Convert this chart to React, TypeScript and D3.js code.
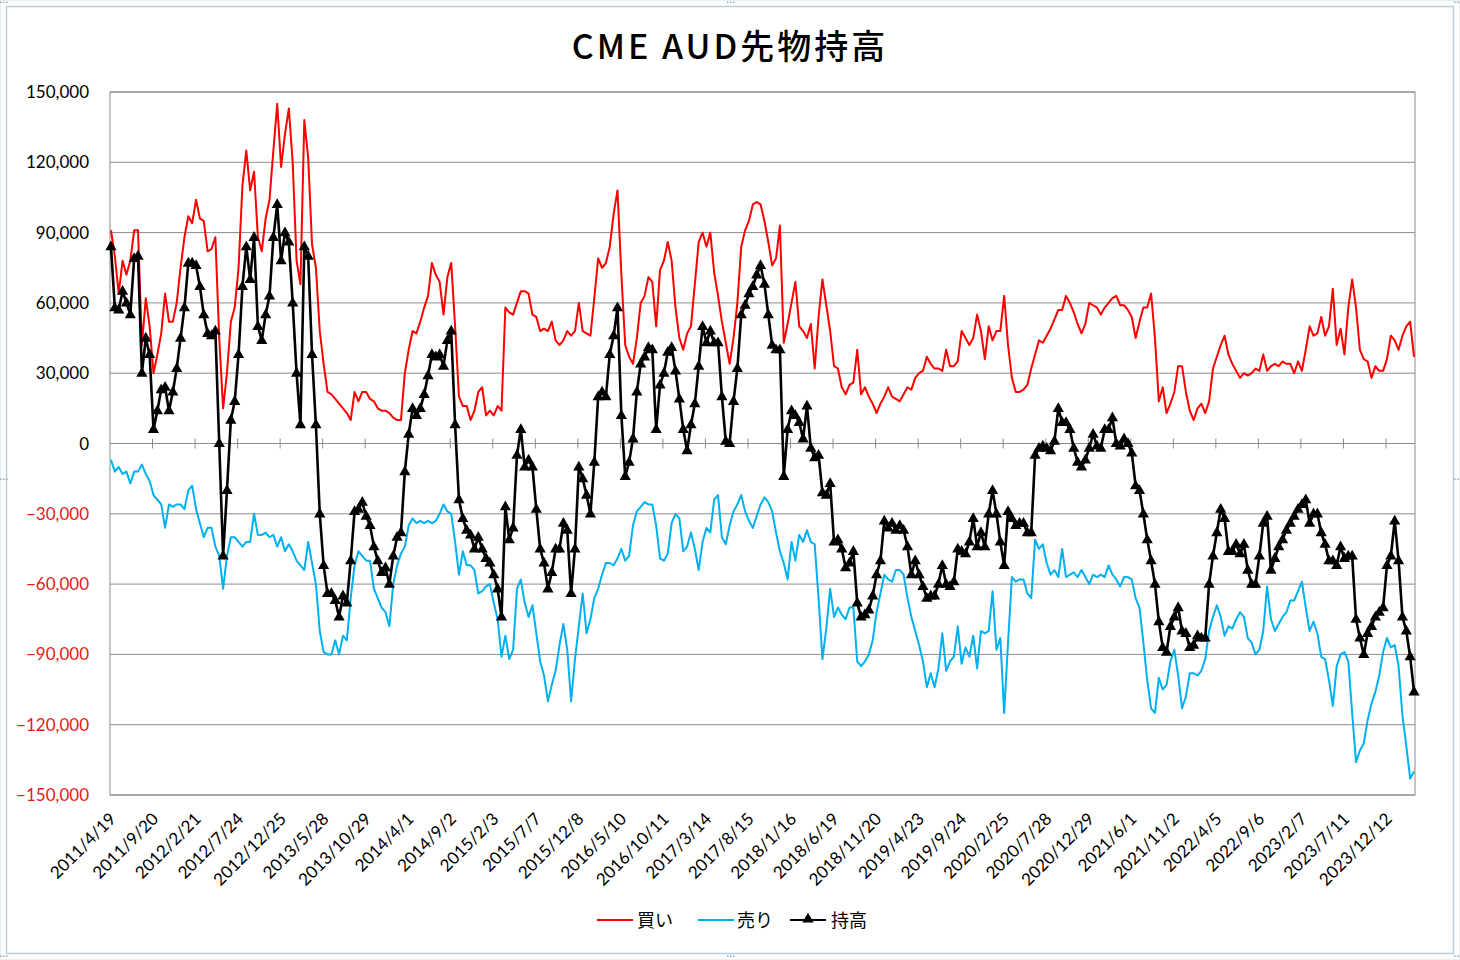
import React from 'react';
import * as d3 from 'd3';

// ---- categories (weekly, 675 weeks starting 2011/4/19) ----
const N_WEEKS = 675;
const STEP = 2; // values below are read every 2 weeks
const LABEL_EVERY = 22;
const tickLabels = [
  '2011/4/19', '2011/9/20', '2012/2/21', '2012/7/24', '2012/12/25', '2013/5/28', '2013/10/29',
  '2014/4/1', '2014/9/2', '2015/2/3', '2015/7/7', '2015/12/8', '2016/5/10', '2016/10/11',
  '2017/3/14', '2017/8/15', '2018/1/16', '2018/6/19', '2018/11/20', '2019/4/23', '2019/9/24',
  '2020/2/25', '2020/7/28', '2020/12/29', '2021/6/1', '2021/11/2', '2022/4/5', '2022/9/6',
  '2023/2/7', '2023/7/11', '2023/12/12',
];
const yTicks = [150000, 120000, 90000, 60000, 30000, 0, -30000, -60000, -90000, -120000, -150000];

// ---- values in thousands of contracts ----
const longs = [
  91, 80, 64, 78, 72, 78, 91, 91, 42, 62,
  50, 30, 38, 47, 64, 52, 52, 60, 75, 88,
  97, 94, 104, 96, 95, 82, 83, 88, 45, 15,
  30, 52, 58, 75, 110, 125, 108, 116, 88, 82,
  96, 104, 125, 145, 118, 132, 143, 120, 78, 68,
  138, 122, 85, 75, 48, 34, 22, 21, 19, 17,
  15, 13, 10, 22, 18, 22, 22, 19, 18, 15,
  14, 14, 13, 11, 10, 10, 30, 40, 48, 47,
  52, 58, 63, 77, 72, 69, 55, 71, 77, 50,
  20, 16, 16, 10, 14, 22, 24, 12, 14, 12,
  16, 14, 58, 56, 55, 60, 65, 65, 64, 55,
  54, 48, 49, 48, 52, 44, 42, 44, 48, 46,
  48, 60, 48, 47, 46, 62, 79, 75, 77, 84,
  98, 108, 72, 42, 37, 34, 45, 60, 63, 71,
  69, 50, 74, 78, 86, 78, 58, 45, 40, 47,
  50, 68, 86, 90, 84, 90, 73, 63, 52, 43,
  34, 45, 60, 84, 91, 95, 102, 103, 102, 95,
  86, 76, 79, 93, 43, 51, 60, 69, 50, 48,
  45, 51, 32, 54, 70, 59, 48, 33, 32, 24,
  21, 25, 26, 40, 21, 24, 20, 17, 13, 17,
  20, 24, 20, 19, 18, 21, 24, 23, 28, 30,
  31, 37, 34, 32, 32, 31, 40, 33, 33, 35,
  48, 45, 42, 45, 55, 48, 36, 50, 44, 48,
  48, 63, 42, 28, 22, 22, 23, 25, 32, 38,
  44, 43, 46, 49, 53, 57, 57, 63, 60, 56,
  51, 47, 51, 60, 59, 58, 55, 58, 60, 62,
  63, 59, 59, 57, 54, 45, 52, 58, 58, 64,
  45, 18, 24, 13, 17, 22, 33, 33, 22, 14,
  10, 15, 17, 13, 18, 32, 37, 42, 46, 38,
  34, 31, 28, 30, 29, 30, 32, 31, 38, 31,
  33, 34, 33, 35, 34, 34, 30, 35, 31, 40,
  50, 46, 47, 54, 46, 50, 66, 42, 49, 38,
  58, 70, 58, 40, 36, 35, 28, 33, 31, 31,
  36, 46, 44, 40, 46, 50, 52, 37,
];

const shorts = [
  -7, -12, -10, -13, -12, -17, -12, -12, -9, -13,
  -16, -22, -24, -26, -36, -26, -27, -26, -26, -28,
  -20, -18, -28, -34, -40, -36, -36, -44, -48, -62,
  -48, -40, -40, -42, -44, -42, -42, -30, -39, -39,
  -38, -40, -39, -44, -40, -46, -43, -46, -50, -52,
  -54, -42, -51, -60, -80, -89, -90, -90, -84, -90,
  -82, -84, -66, -52, -46, -48, -50, -50, -62, -66,
  -70, -72, -78, -60, -52, -47, -44, -35, -32, -34,
  -33, -34, -33, -34, -33, -30, -26, -29, -30, -42,
  -56, -46, -52, -52, -54, -64, -63, -61, -60, -68,
  -75, -91, -82, -92, -88, -62, -58, -68, -74, -69,
  -81, -93, -99, -110, -103, -97, -86, -77, -88, -110,
  -92, -78, -64, -81, -75, -66, -62, -56, -51, -51,
  -52, -49, -45, -50, -48, -35, -29, -27, -25, -26,
  -26, -35, -49, -50, -47, -34, -30, -32, -46, -44,
  -38, -45, -54, -42, -36, -38, -24, -22, -40, -43,
  -35, -29, -26, -22, -29, -33, -36, -31, -26, -23,
  -25, -29, -38, -46, -51, -58, -42, -50, -39, -42,
  -37, -42, -43, -66, -92, -79, -62, -74, -70, -73,
  -75, -70, -70, -93, -95, -93, -90, -84, -72, -64,
  -56, -58, -59, -54, -54, -56, -66, -74, -80, -86,
  -93, -104, -98, -104, -96, -81, -97, -93, -91, -78,
  -94, -87, -91, -82, -96, -80, -81, -80, -63, -88,
  -83, -115, -85, -57, -59, -58, -58, -64, -66, -41,
  -45, -43, -51, -56, -54, -57, -45, -57, -56, -55,
  -57, -54, -57, -60, -56, -57, -56, -57, -52, -56,
  -58, -61, -57, -57, -58, -66, -70, -85, -101, -113,
  -115, -100, -105, -103, -93, -88, -99, -113, -108, -98,
  -98, -99, -97, -92, -80, -74, -69, -74, -82, -78,
  -79, -75, -72, -74, -83, -85, -90, -88, -80, -61,
  -75, -80, -77, -74, -72, -67, -67, -63, -59, -70,
  -80, -76, -81, -91, -92, -101, -112, -95, -90, -89,
  -93, -115, -136, -131, -128, -118, -111, -106, -99, -89,
  -83, -87, -86, -95, -116, -129, -143, -140,
];

const nets = [
  84, 58, 57, 65, 60, 55, 79, 80, 30, 45,
  38, 6, 14, 23, 24, 14, 22, 32, 45, 58,
  77, 77, 76, 67, 55, 47, 46, 48, 0, -48,
  -20, 10, 18, 38, 67, 84, 70, 88, 50, 44,
  55, 63, 88, 102, 78, 90, 86, 60, 30, 8,
  84, 80, 38, 8, -30, -52, -64, -64, -67, -74,
  -65, -68, -50, -29, -28, -25, -31, -35, -44, -50,
  -55, -53, -60, -48, -40, -38, -12, 4, 15, 12,
  15, 21, 29, 38, 37, 38, 33, 44, 48, 8,
  -24, -32, -37, -39, -45, -40, -45, -49, -51, -56,
  -62, -74, -27, -41, -36, -5, 6, -10, -7, -10,
  -28, -45, -51, -62, -55, -45, -45, -34, -37, -64,
  -45, -10, -15, -22, -30, -8, 20, 22, 20, 38,
  46, 58, 12, -14, -8, 2, 22, 34, 37, 41,
  40, 6, 25, 30, 39, 41, 31, 19, 6, -3,
  8, 17, 33, 50, 43, 48, 43, 43, 20, 1,
  0, 18, 32, 55, 59, 64, 67, 72, 76, 68,
  55, 42, 40, 40, -14, 6, 14, 12, 9, 2,
  16, -2, -6, -5, -21, -22, -17, -42, -41, -45,
  -53, -51, -46, -68, -74, -73, -71, -65, -56, -50,
  -33, -36, -34, -37, -35, -37, -44, -56, -50, -56,
  -61, -66, -65, -65, -60, -52, -60, -61, -59, -45,
  -46, -47, -42, -32, -44, -38, -44, -30, -20, -30,
  -42, -52, -29, -32, -35, -34, -34, -38, -38, -5,
  -2, -1, -2, -3, 1, 15, 9, 9, 6, -2,
  -8, -10, -7, -2, 4, -1, -2, 6, 6, 11,
  0, -1, 2, 0, -4, -18, -20, -30, -41, -50,
  -60, -76, -87, -89, -78, -74, -70, -80, -81, -87,
  -86, -82, -83, -83, -60, -48, -38, -28, -32, -46,
  -46, -43, -47, -43, -54, -60, -60, -48, -34, -31,
  -54, -49, -44, -41, -37, -34, -31, -28, -26, -24,
  -34, -30, -30, -38, -43, -50, -50, -52, -44, -49,
  -48, -48, -75, -83, -90, -81, -78, -74, -72, -70,
  -52, -48, -33, -50, -74, -80, -91, -106,
];

const seriesNames = ['買い', '売り', '持高'];
const seriesColors = ['#ff0000', '#00b0f0', '#000000'];

// ---- layout ----
const W = 1460;
const H = 960;
const PL = 110, PR = 1415, PT = 92, PB = 795;
const AXIS_FONT = 'Lato, "Open Sans", "Noto Sans", sans-serif';
const JP_FONT = '"Noto Sans CJK JP", "Noto Sans", sans-serif';

const x = d3.scaleLinear().domain([0, N_WEEKS]).range([PL, PR]);
const y = d3.scaleLinear().domain([-150000, 150000]).range([PB, PT]);
const fmt = d3.format(',');

const mkLine = d3
  .line<number>()
  .x((_, i) => x(i * STEP + 0.5))
  .y((d) => y(d * 1000));

const triPath = 'M0,-6.2L5.6,3.6L-5.6,3.6Z';

export default function App() {
  const y0 = y(0);
  const boundaryTicks = d3.range(1, Math.floor(N_WEEKS / LABEL_EVERY) + 1).map((k) => k * LABEL_EVERY);
  return (
    <svg
      width={W}
      height={H}
      style={{ position: 'absolute', left: 0, top: 0, display: 'block', background: '#fff' }}
    >
      {/* outer chart frame */}
      <rect x={0.5} y={0.5} width={W - 1} height={H - 1} fill="#fff" stroke="#e6eef5" />
      <rect x={6.5} y={6.5} width={W - 13} height={H - 13} fill="#fff" stroke="#b9cfe0" strokeWidth={1.5} />
      {[[730, 3], [3, 480], [W - 3, 480], [730, H - 3], [3, 3], [W - 3, 3], [3, H - 3], [W - 3, H - 3]].map(([cx, cy], i) => (
        <g key={i} fill="#8fa5b8">
          <rect x={cx - 3} y={cy - 1.5} width={1.5} height={1.5} />
          <rect x={cx} y={cy - 1.5} width={1.5} height={1.5} />
          <rect x={cx + 3} y={cy - 1.5} width={1.5} height={1.5} />
        </g>
      ))}

      {/* title */}
      <text
        x={730}
        y={59}
        textAnchor="middle"
        fontFamily={JP_FONT}
        fontSize={34}
        fontWeight={500}
        fill="#000"
        letterSpacing={3}
      >
        CME AUD先物持高
      </text>

      {/* gridlines */}
      {yTicks.map((t) => (
        <line key={t} x1={PL} x2={PR} y1={y(t)} y2={y(t)} stroke="#8c8c8c" strokeWidth={1} />
      ))}
      <rect x={PL} y={PT} width={PR - PL} height={PB - PT} fill="none" stroke="#8c8c8c" strokeWidth={1} />

      {/* y labels */}
      {yTicks.map((t) => (
        <text
          key={'l' + t}
          x={89}
          y={y(t) + 6}
          textAnchor="end"
          fontFamily={AXIS_FONT}
          fontSize={17}
          fill={t < 0 ? '#e3201b' : '#000'}
        >
          {fmt(t)}
        </text>
      ))}

      {/* category ticks on zero axis */}
      {boundaryTicks.map((k) => (
        <line key={'t' + k} x1={x(k)} x2={x(k)} y1={y0 - 5} y2={y0 + 5} stroke="#8c8c8c" />
      ))}

      {/* x labels */}
      {tickLabels.map((lab, k) => {
        const cx = x(k * LABEL_EVERY + 0.5);
        return (
          <text
            key={lab}
            transform={`translate(${cx + 6},${PB + 25}) rotate(-45)`}
            textAnchor="end"
            fontFamily={AXIS_FONT}
            fontSize={17}
            fill="#000"
          >
            {lab}
          </text>
        );
      })}

      {/* series */}
      <path d={mkLine(longs) || ''} fill="none" stroke={seriesColors[0]} strokeWidth={2} strokeLinejoin="round" />
      <path d={mkLine(shorts) || ''} fill="none" stroke={seriesColors[1]} strokeWidth={2} strokeLinejoin="round" />
      <path d={mkLine(nets) || ''} fill="none" stroke={seriesColors[2]} strokeWidth={2.6} strokeLinejoin="round" />
      {nets.map((d, i) => (
        <path key={'m' + i} d={triPath} transform={`translate(${x(i * STEP + 0.5)},${y(d * 1000)})`} fill="#000" />
      ))}

      {/* legend */}
      <g fontFamily={JP_FONT} fontSize={18} fill="#000">
        <line x1={597} x2={633} y1={920} y2={920} stroke={seriesColors[0]} strokeWidth={2} />
        <text x={637} y={927}>{seriesNames[0]}</text>
        <line x1={698} x2={734} y1={920} y2={920} stroke={seriesColors[1]} strokeWidth={2} />
        <text x={737} y={927}>{seriesNames[1]}</text>
        <line x1={790} x2={826} y1={920} y2={920} stroke={seriesColors[2]} strokeWidth={2} />
        <path d={triPath} transform="translate(808,919)" fill="#000" />
        <text x={831} y={927}>{seriesNames[2]}</text>
      </g>
    </svg>
  );
}
